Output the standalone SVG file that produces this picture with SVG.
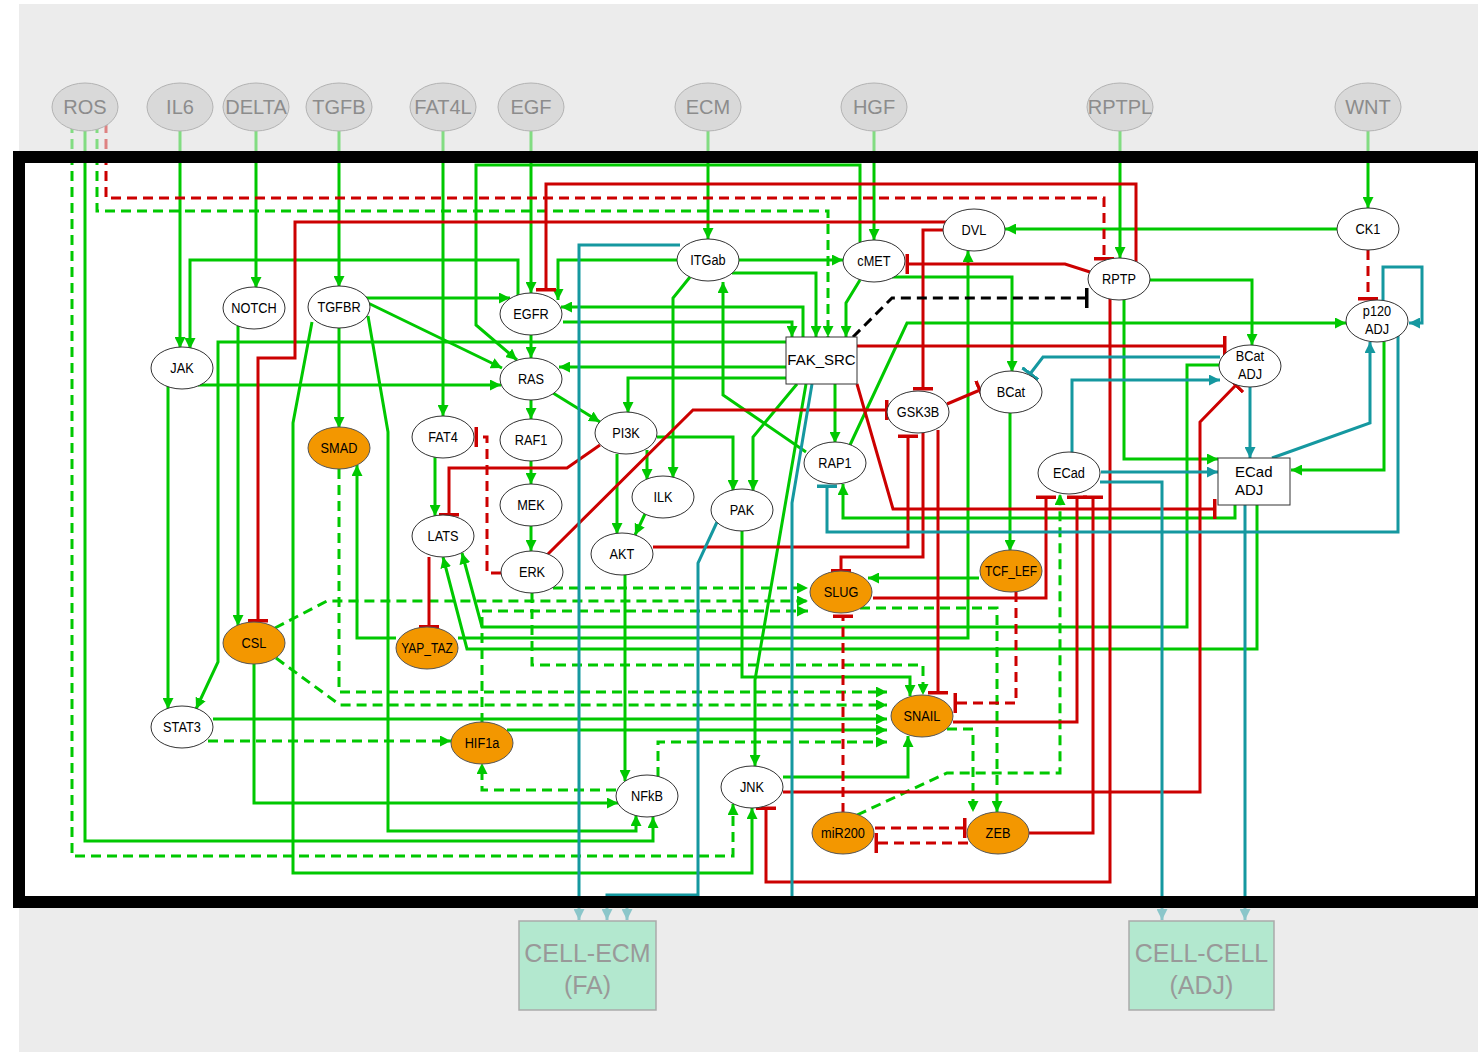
<svg xmlns="http://www.w3.org/2000/svg" width="1478" height="1052" viewBox="0 0 1478 1052">
<style>
.c path{fill:none;stroke-width:3}
.g{stroke:#00c800}.r{stroke:#cc0000}.t{stroke:#1598a0}.k{stroke:#000}
.d{stroke-dasharray:10 6}
.ag{marker-end:url(#ag)}.at{marker-end:url(#at)}.br{marker-end:url(#br)}.bt{marker-end:url(#bt)}.bk{marker-end:url(#bk)}
.n ellipse,.n rect{fill:#fff;stroke:#333;stroke-width:1}
.o ellipse{fill:#f39700;stroke:#555;stroke-width:1}
.n text,.o text{font-family:"Liberation Sans",Arial,sans-serif;font-size:15px;text-anchor:middle;fill:#000}
.top ellipse{fill:#d9d9d9;stroke:#b3b3b3;stroke-width:1}
.top text{font-family:"Liberation Sans",Arial,sans-serif;font-size:20px;text-anchor:middle;fill:#8c8c8c}
.box rect{fill:#b3e8cf;stroke:#aaa;stroke-width:1.5}
.box text{font-family:"Liberation Sans",Arial,sans-serif;font-size:25px;text-anchor:middle;fill:#999}
</style>
<defs>
<marker id="ag" viewBox="0 0 10 10" refX="10" refY="5" markerWidth="11" markerHeight="11" markerUnits="userSpaceOnUse" orient="auto"><path d="M0,0L10,5L0,10z" fill="#00c800"/></marker>
<marker id="at" viewBox="0 0 10 10" refX="10" refY="5" markerWidth="11" markerHeight="11" markerUnits="userSpaceOnUse" orient="auto"><path d="M0,0L10,5L0,10z" fill="#1598a0"/></marker>
<marker id="br" viewBox="0 0 4 20" refX="2" refY="10" markerWidth="4" markerHeight="20" markerUnits="userSpaceOnUse" orient="auto"><rect width="3.5" height="20" fill="#cc0000"/></marker>
<marker id="bt" viewBox="0 0 4 20" refX="2" refY="10" markerWidth="4" markerHeight="20" markerUnits="userSpaceOnUse" orient="auto"><rect width="3.5" height="20" fill="#1598a0"/></marker>
<marker id="bk" viewBox="0 0 4 20" refX="2" refY="10" markerWidth="4" markerHeight="20" markerUnits="userSpaceOnUse" orient="auto"><rect width="3.5" height="20" fill="#000"/></marker>
</defs>
<rect x="19" y="4" width="1459" height="1048" fill="#ececec"/>
<rect x="25" y="163" width="1450" height="733" fill="#fff"/>
<g id="connectors" class="c">
<path class="g ag" d="M180,107V348"/>
<path class="g ag" d="M256,107V288"/>
<path class="g ag" d="M339,107V287"/>
<path class="g ag" d="M443,107V416"/>
<path class="g ag" d="M531,107V293"/>
<path class="g ag" d="M708,107V239"/>
<path class="g ag" d="M874,107V240"/>
<path class="g ag" d="M1120,107V258"/>
<path class="g ag" d="M1368,107V208"/>
<path class="g ag" d="M85,107V841H653V817"/>
<path class="g ag" d="M339,298H510"/>
<path class="g ag" d="M368,303L502,368"/>
<path class="g ag" d="M368,316L388,432V831H636V815"/>
<path class="g ag" d="M339,328V428"/>
<path class="g ag" d="M312,322L293,423V873H752V808"/>
<path class="g ag" d="M518,295V260H190V349"/>
<path class="g ag" d="M198,385H501"/>
<path class="g ag" d="M168,386V709"/>
<path class="g ag" d="M786,342H218V662L196,709"/>
<path class="g ag" d="M238,326V626"/>
<path class="g ag" d="M254,663V803H618"/>
<path class="g ag" d="M396,638H357V465"/>
<path class="g ag" d="M458,638H968V251"/>
<path class="g ag" d="M435,457V516"/>
<path class="g ag" d="M1219,365H1187V627H482L462,553"/>
<path class="g ag" d="M1257,505V649H467L443,557"/>
<path class="g ag" d="M531,335V358"/>
<path class="g ag" d="M531,400V419"/>
<path class="g ag" d="M531,461V484"/>
<path class="g ag" d="M531,526V551"/>
<path class="g ag" d="M553,393L600,422"/>
<path class="g ag" d="M860,242V165H476V325L517,360"/>
<path class="g ag" d="M617,454V534"/>
<path class="g ag" d="M647,450V480"/>
<path class="g ag" d="M657,437H733V491"/>
<path class="g ag" d="M786,378H628V413"/>
<path class="g ag" d="M690,277L673,298V478"/>
<path class="g ag" d="M645,514L635,535"/>
<path class="g ag" d="M625,575V781"/>
<path class="g ag" d="M677,260H558V300"/>
<path class="g ag" d="M739,260H843"/>
<path class="g ag" d="M732,273H816V337"/>
<path class="g ag" d="M806,452L723,395V282"/>
<path class="g ag" d="M860,280L846,303V337"/>
<path class="g ag" d="M892,277H1012V372"/>
<path class="g ag" d="M563,322H792V337"/>
<path class="g ag" d="M803,337V307H561"/>
<path class="g ag" d="M786,367H559"/>
<path class="g ag" d="M835,384V443"/>
<path class="g ag" d="M797,384L753,437V491"/>
<path class="g ag" d="M806,384L755,680V766"/>
<path class="g ag" d="M850,445L907,323H1346"/>
<path class="g ag" d="M1235,505V518H843V484"/>
<path class="g ag" d="M1337,229H1005"/>
<path class="g ag" d="M1010,413V551"/>
<path class="g ag" d="M1150,280H1252V345"/>
<path class="g ag" d="M1124,300V459H1218"/>
<path class="g ag" d="M1384,341V470H1291"/>
<path class="g ag" d="M979,578H868"/>
<path class="g ag" d="M742,530V677H910V696"/>
<path class="g ag" d="M213,719H887"/>
<path class="g ag" d="M507,730H887"/>
<path class="g ag" d="M783,777H908V736"/>
<path class="g d ag" d="M72,107V856H733V804"/>
<path class="g d ag" d="M97,107V211H828V337"/>
<path class="g d ag" d="M275,628L327,601H808"/>
<path class="g d ag" d="M276,658L340,705H887"/>
<path class="g d ag" d="M339,469V692H887"/>
<path class="g d ag" d="M857,815L947,773H1060V494"/>
<path class="g d ag" d="M860,608H997V812"/>
<path class="g d ag" d="M553,588H808"/>
<path class="g d ag" d="M482,723V611H808"/>
<path class="g d ag" d="M532,593V665H923V695"/>
<path class="g d ag" d="M208,741H451"/>
<path class="g d ag" d="M616,790H482V763"/>
<path class="g d ag" d="M658,777V742H887"/>
<path class="g d ag" d="M947,729H973V812"/>
<path class="r br" d="M974,222H295V358H258V621"/>
<path class="r br" d="M429,557V627"/>
<path class="r br" d="M600,445L567,468H449V515"/>
<path class="r br" d="M547,555L693,410H887"/>
<path class="r br" d="M653,547H908V436"/>
<path class="r br" d="M1090,272L1065,264H907"/>
<path class="r br" d="M1136,265V184H546V290"/>
<path class="r br" d="M857,346H1225"/>
<path class="r br" d="M857,384L893,509H1215"/>
<path class="r br" d="M974,230H923V389"/>
<path class="r br" d="M947,404L980,390"/>
<path class="r br" d="M1110,299V882H766V808"/>
<path class="r br" d="M783,792H1200V422L1236,385"/>
<path class="r br" d="M873,598H1046V497"/>
<path class="r br" d="M953,722H1077V497"/>
<path class="r br" d="M1029,833H1093V497"/>
<path class="r br" d="M923,433V557H841V571"/>
<path class="r br" d="M938,430V693"/>
<path class="r d br" d="M106,107V198H1104V259"/>
<path class="r d br" d="M501,573H487V437H476"/>
<path class="r d br" d="M1368,250V299"/>
<path class="r d br" d="M1016,592V703H955"/>
<path class="r d br" d="M843,813V616"/>
<path class="r d br" d="M875,828H965"/>
<path class="r d br" d="M968,843H876"/>
<path class="k d bk" d="M853,337L892,298H1087"/>
<path class="t at" d="M680,245H579V920"/>
<path class="t at" d="M812,384L792,503V902H627V920"/>
<path class="t at" d="M1072,453V380H1220"/>
<path class="t at" d="M1383,302V267H1422V323H1409"/>
<path class="t at" d="M1272,458L1370,423V342"/>
<path class="t at" d="M1250,387V458"/>
<path class="t at" d="M1101,472H1218"/>
<path class="t at" d="M1100,482H1162V920"/>
<path class="t at" d="M1245,505V920"/>
<path class="t at" d="M717,522L698,563V895H607V920"/>
<path class="t bt" d="M1398,333V532H827V486"/>
<path class="t bt" d="M1220,357H1043L1030,374"/>
</g>
<g id="NOTCH" class="n"><ellipse cx="254" cy="308" rx="31" ry="21"/><text transform="translate(254 313) scale(.85 1)">NOTCH</text></g>
<g id="TGFBR" class="n"><ellipse cx="339" cy="307" rx="31" ry="21"/><text transform="translate(339 312) scale(.85 1)">TGFBR</text></g>
<g id="JAK" class="n"><ellipse cx="182" cy="368" rx="31" ry="21"/><text transform="translate(182 373) scale(.85 1)">JAK</text></g>
<g id="EGFR" class="n"><ellipse cx="531" cy="314" rx="31" ry="21"/><text transform="translate(531 319) scale(.85 1)">EGFR</text></g>
<g id="RAS" class="n"><ellipse cx="531" cy="379" rx="31" ry="21"/><text transform="translate(531 384) scale(.85 1)">RAS</text></g>
<g id="ITGab" class="n"><ellipse cx="708" cy="260" rx="31" ry="21"/><text transform="translate(708 265) scale(.85 1)">ITGab</text></g>
<g id="cMET" class="n"><ellipse cx="874" cy="261" rx="31" ry="21"/><text transform="translate(874 266) scale(.85 1)">cMET</text></g>
<g id="DVL" class="n"><ellipse cx="974" cy="230" rx="31" ry="21"/><text transform="translate(974 235) scale(.85 1)">DVL</text></g>
<g id="CK1" class="n"><ellipse cx="1368" cy="229" rx="31" ry="21"/><text transform="translate(1368 234) scale(.85 1)">CK1</text></g>
<g id="RPTP" class="n"><ellipse cx="1119" cy="279" rx="31" ry="21"/><text transform="translate(1119 284) scale(.85 1)">RPTP</text></g>
<g id="p120_ADJ" class="n"><ellipse cx="1377" cy="321" rx="31" ry="21"/><text transform="translate(1377 316) scale(.85 1)">p120</text><text transform="translate(1377 334) scale(.85 1)">ADJ</text></g>
<g id="BCat_ADJ" class="n"><ellipse cx="1250" cy="366" rx="31" ry="21"/><text transform="translate(1250 361) scale(.85 1)">BCat</text><text transform="translate(1250 379) scale(.85 1)">ADJ</text></g>
<g id="BCat" class="n"><ellipse cx="1011" cy="392" rx="31" ry="21"/><text transform="translate(1011 397) scale(.85 1)">BCat</text></g>
<g id="GSK3B" class="n"><ellipse cx="918" cy="412" rx="31" ry="21"/><text transform="translate(918 417) scale(.85 1)">GSK3B</text></g>
<g id="RAP1" class="n"><ellipse cx="835" cy="463" rx="31" ry="21"/><text transform="translate(835 468) scale(.85 1)">RAP1</text></g>
<g id="ECad" class="n"><ellipse cx="1069" cy="473" rx="31" ry="21"/><text transform="translate(1069 478) scale(.85 1)">ECad</text></g>
<g id="FAT4" class="n"><ellipse cx="443" cy="437" rx="31" ry="21"/><text transform="translate(443 442) scale(.85 1)">FAT4</text></g>
<g id="RAF1" class="n"><ellipse cx="531" cy="440" rx="31" ry="21"/><text transform="translate(531 445) scale(.85 1)">RAF1</text></g>
<g id="PI3K" class="n"><ellipse cx="626" cy="433" rx="31" ry="21"/><text transform="translate(626 438) scale(.85 1)">PI3K</text></g>
<g id="MEK" class="n"><ellipse cx="531" cy="505" rx="31" ry="21"/><text transform="translate(531 510) scale(.85 1)">MEK</text></g>
<g id="ILK" class="n"><ellipse cx="663" cy="497" rx="31" ry="21"/><text transform="translate(663 502) scale(.85 1)">ILK</text></g>
<g id="LATS" class="n"><ellipse cx="443" cy="536" rx="31" ry="21"/><text transform="translate(443 541) scale(.85 1)">LATS</text></g>
<g id="AKT" class="n"><ellipse cx="622" cy="554" rx="31" ry="21"/><text transform="translate(622 559) scale(.85 1)">AKT</text></g>
<g id="ERK" class="n"><ellipse cx="532" cy="572" rx="31" ry="21"/><text transform="translate(532 577) scale(.85 1)">ERK</text></g>
<g id="PAK" class="n"><ellipse cx="742" cy="510" rx="31" ry="21"/><text transform="translate(742 515) scale(.85 1)">PAK</text></g>
<g id="STAT3" class="n"><ellipse cx="182" cy="727" rx="31" ry="21"/><text transform="translate(182 732) scale(.85 1)">STAT3</text></g>
<g id="NFkB" class="n"><ellipse cx="647" cy="796" rx="31" ry="21"/><text transform="translate(647 801) scale(.85 1)">NFkB</text></g>
<g id="JNK" class="n"><ellipse cx="752" cy="787" rx="31" ry="21"/><text transform="translate(752 792) scale(.85 1)">JNK</text></g>
<g id="FAK_SRC" class="n"><rect x="786" y="337" width="71" height="47"/><text x="821.5" y="365">FAK_SRC</text></g>
<g id="ECad_ADJ" class="n"><rect x="1218" y="458" width="72" height="47"/><text x="1235" y="477" style="text-anchor:start">ECad</text><text x="1235" y="495" style="text-anchor:start">ADJ</text></g>
<g id="SMAD" class="o"><ellipse cx="339" cy="448" rx="31" ry="21"/><text transform="translate(339 453) scale(.85 1)">SMAD</text></g>
<g id="CSL" class="o"><ellipse cx="254" cy="643" rx="31" ry="21"/><text transform="translate(254 648) scale(.85 1)">CSL</text></g>
<g id="YAP_TAZ" class="o"><ellipse cx="427" cy="648" rx="31" ry="21"/><text transform="translate(427 653) scale(.8 1)">YAP_TAZ</text></g>
<g id="HIF1a" class="o"><ellipse cx="482" cy="743" rx="31" ry="21"/><text transform="translate(482 748) scale(.85 1)">HIF1a</text></g>
<g id="SLUG" class="o"><ellipse cx="841" cy="592" rx="31" ry="21"/><text transform="translate(841 597) scale(.85 1)">SLUG</text></g>
<g id="TCF_LEF" class="o"><ellipse cx="1011" cy="571" rx="31" ry="21"/><text transform="translate(1011 576) scale(.8 1)">TCF_LEF</text></g>
<g id="SNAIL" class="o"><ellipse cx="922" cy="716" rx="31" ry="21"/><text transform="translate(922 721) scale(.85 1)">SNAIL</text></g>
<g id="miR200" class="o"><ellipse cx="843" cy="833" rx="31" ry="21"/><text transform="translate(843 838) scale(.85 1)">miR200</text></g>
<g id="ZEB" class="o"><ellipse cx="998" cy="833" rx="31" ry="21"/><text transform="translate(998 838) scale(.85 1)">ZEB</text></g>
<rect x="19" y="157" width="1462" height="745" fill="none" stroke="#000" stroke-width="12"/>
<rect x="19" y="4" width="1459" height="147" fill="#ececec" opacity="0.55"/>
<rect x="19" y="908" width="1459" height="144" fill="#ececec" opacity="0.55"/>
<g id="ROS" class="top"><ellipse cx="85" cy="107" rx="33" ry="24"/><text x="85" y="114">ROS</text></g>
<g id="IL6" class="top"><ellipse cx="180" cy="107" rx="33" ry="24"/><text x="180" y="114">IL6</text></g>
<g id="DELTA" class="top"><ellipse cx="256" cy="107" rx="33" ry="24"/><text x="256" y="114">DELTA</text></g>
<g id="TGFB" class="top"><ellipse cx="339" cy="107" rx="33" ry="24"/><text x="339" y="114">TGFB</text></g>
<g id="FAT4L" class="top"><ellipse cx="443" cy="107" rx="33" ry="24"/><text x="443" y="114">FAT4L</text></g>
<g id="EGF" class="top"><ellipse cx="531" cy="107" rx="33" ry="24"/><text x="531" y="114">EGF</text></g>
<g id="ECM" class="top"><ellipse cx="708" cy="107" rx="33" ry="24"/><text x="708" y="114">ECM</text></g>
<g id="HGF" class="top"><ellipse cx="874" cy="107" rx="33" ry="24"/><text x="874" y="114">HGF</text></g>
<g id="RPTPL" class="top"><ellipse cx="1120" cy="107" rx="33" ry="24"/><text x="1120" y="114">RPTPL</text></g>
<g id="WNT" class="top"><ellipse cx="1368" cy="107" rx="33" ry="24"/><text x="1368" y="114">WNT</text></g>
<g id="CELL_ECM" class="box"><rect x="519" y="921" width="137" height="89"/><text x="587.5" y="962">CELL-ECM</text><text x="587.5" y="994">(FA)</text></g>
<g id="CELL_CELL" class="box"><rect x="1129" y="921" width="145" height="89"/><text x="1201.5" y="962">CELL-CELL</text><text x="1201.5" y="994">(ADJ)</text></g>
</svg>
